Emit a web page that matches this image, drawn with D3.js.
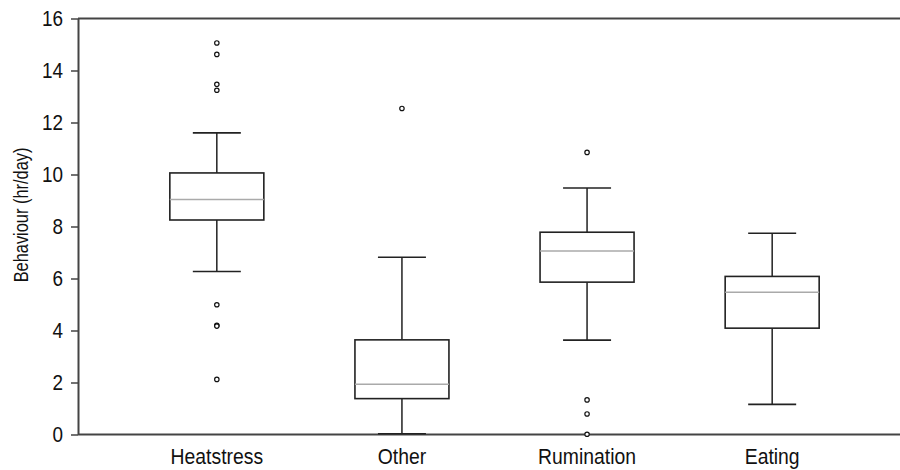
<!DOCTYPE html>
<html>
<head>
<meta charset="utf-8">
<script src="https://cdn.jsdelivr.net/npm/d3@7"></script>
<style>
  html, body { margin: 0; padding: 0; background: #fff; }
  svg text { font-family: "Liberation Sans", Arial, sans-serif; fill: #111; }
</style>
</head>
<body>
<svg id="chart" width="900" height="470"></svg>
<script>
// Behaviour categories and their box-plot summaries (hr/day)
const categories = ["Heatstress", "Other", "Rumination", "Eating"];
const whiskerLow  = [6.27, 0.03, 3.63, 1.16];
const quartile1   = [8.25, 1.38, 5.86, 4.09];
const medians     = [9.04, 1.93, 7.06, 5.47];
const quartile3   = [10.06, 3.64, 7.78, 6.08];
const whiskerHigh = [11.60, 6.82, 9.48, 7.74];
const outliers = [
  [15.06, 14.62, 13.47, 13.24, 4.99, 4.20, 4.17, 2.12],
  [12.54],
  [10.85, 1.33, 0.79, 0.01],
  []
];
const yTicks = [0, 2, 4, 6, 8, 10, 12, 14, 16];
const yTitle = "Behaviour (hr/day)";

const svg = d3.select("#chart");
const plotLeft = 78, plotTop = 18.5, plotBottom = 434.5, plotRight = 900;

const x = d3.scalePoint().domain(categories).range([plotLeft, 911]).padding(0.75);
const y = d3.scaleLinear().domain([0, 16]).range([plotBottom, plotTop]);

const boxW = 94, capW = 48;
const axisColor = "#444";

// Condense glyphs horizontally to the narrow face used by the labels
function condense(sel, k) {
  sel.each(function () {
    const w = this.getComputedTextLength();
    d3.select(this).attr("textLength", w * k).attr("lengthAdjust", "spacingAndGlyphs");
  });
}

// Frame: top and bottom rules
svg.append("line").attr("x1", plotLeft).attr("x2", plotRight).attr("y1", plotTop).attr("y2", plotTop)
  .attr("stroke", axisColor).attr("stroke-width", 2);
svg.append("line").attr("x1", plotLeft).attr("x2", plotRight).attr("y1", plotBottom).attr("y2", plotBottom)
  .attr("stroke", axisColor).attr("stroke-width", 2);

// Y axis
const yAxis = svg.append("g").attr("transform", `translate(${plotLeft},0)`)
  .call(d3.axisLeft(y).tickValues(yTicks).tickSize(7).tickPadding(8).tickSizeOuter(0));
yAxis.select(".domain").attr("stroke", axisColor).attr("stroke-width", 2);
yAxis.selectAll(".tick line").attr("stroke", axisColor).attr("stroke-width", 1.5);
yAxis.selectAll(".tick text").attr("font-size", 22.5).attr("fill", "#111")
  .attr("font-family", "Liberation Sans, Arial, sans-serif").call(condense, 0.84);

// X category labels
svg.append("g").selectAll("text").data(categories).join("text")
  .attr("x", d => x(d)).attr("y", 464)
  .attr("text-anchor", "middle").attr("font-size", 22.5)
  .text(d => d).call(condense, 0.86);

// Y title
svg.append("text")
  .attr("transform", "translate(28,215) rotate(-90)")
  .attr("text-anchor", "middle").attr("font-size", 21)
  .text(yTitle).call(condense, 0.78);

// Box plots
const stats = categories.map((c, i) => ({
  c, lo: whiskerLow[i], q1: quartile1[i], med: medians[i], q3: quartile3[i], hi: whiskerHigh[i], out: outliers[i]
}));

const g = svg.append("g").selectAll("g").data(stats).join("g");

g.append("line").attr("x1", d => x(d.c)).attr("x2", d => x(d.c))
  .attr("y1", d => y(d.hi)).attr("y2", d => y(d.q3)).attr("stroke", "#111").attr("stroke-width", 1.4);
g.append("line").attr("x1", d => x(d.c)).attr("x2", d => x(d.c))
  .attr("y1", d => y(d.q1)).attr("y2", d => y(d.lo)).attr("stroke", "#111").attr("stroke-width", 1.4);
g.append("line").attr("x1", d => x(d.c) - capW / 2).attr("x2", d => x(d.c) + capW / 2)
  .attr("y1", d => y(d.hi)).attr("y2", d => y(d.hi)).attr("stroke", "#222").attr("stroke-width", 1.6);
g.append("line").attr("x1", d => x(d.c) - capW / 2).attr("x2", d => x(d.c) + capW / 2)
  .attr("y1", d => y(d.lo)).attr("y2", d => y(d.lo)).attr("stroke", "#222").attr("stroke-width", 1.6);
g.append("rect").attr("x", d => x(d.c) - boxW / 2).attr("width", boxW)
  .attr("y", d => y(d.q3)).attr("height", d => y(d.q1) - y(d.q3))
  .attr("fill", "#fff").attr("stroke", "#222").attr("stroke-width", 1.6);
g.append("line").attr("x1", d => x(d.c) - boxW / 2).attr("x2", d => x(d.c) + boxW / 2)
  .attr("y1", d => y(d.med)).attr("y2", d => y(d.med)).attr("stroke", "#aaa").attr("stroke-width", 1.4);

g.selectAll("circle").data(d => d.out.map(v => ({ c: d.c, v }))).join("circle")
  .attr("cx", d => x(d.c)).attr("cy", d => y(d.v)).attr("r", 2.2)
  .attr("fill", "#fff").attr("stroke", "#111").attr("stroke-width", 1.2);
</script>
</body>
</html>
